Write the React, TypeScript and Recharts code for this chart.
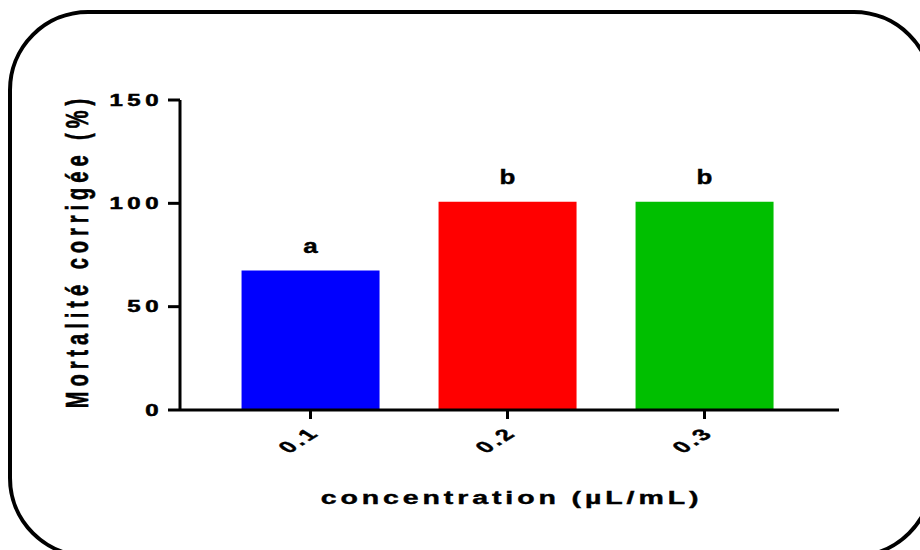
import React from 'react';
import { BarChart, Bar, XAxis, YAxis, Cell, LabelList } from 'recharts';

const categories = ['0.1', '0.2', '0.3'];
const mortality = [67.5, 100.8, 100.8];
const groupLetters = ['a', 'b', 'b'];
const barColors = ['#0000FF', '#FF0000', '#00BF00'];
const yTicks = [0, 50, 100, 150];
const xTitle = 'concentration (µL/mL)';
const yTitle = 'Mortalité corrigée (%)';

const data = categories.map((c, i) => ({
  concentration: c,
  mortality: mortality[i],
  letter: groupLetters[i],
}));

const FONT = '"Liberation Sans", Arial, sans-serif';

const YTick = (props: any) => {
  const { x, y, payload } = props;
  return (
    <g transform={`translate(${x},${y})`}>
      <text
        transform="scale(1.5,1)"
        textAnchor="end"
        dy="0.36em"
        fontFamily={FONT}
        fontWeight="bold"
        fontSize={16}
        letterSpacing={3}
        stroke="#000"
        strokeWidth={0.5}
        fill="#000"
      >
        {payload.value}
      </text>
    </g>
  );
};

const XTick = (props: any) => {
  const { x, y, payload } = props;
  return (
    <g transform={`translate(${x + 4},${y + 11})`}>
      <text
        transform="scale(1.6,1) rotate(-45)"
        textAnchor="end"
        dy="0.35em"
        fontFamily={FONT}
        fontWeight="bold"
        fontSize={16}
        letterSpacing={2}
        stroke="#000"
        strokeWidth={0.4}
        fill="#000"
      >
        {payload.value}
      </text>
    </g>
  );
};

const XTitle = (props: any) => {
  const vb = props.viewBox || {};
  const cx = vb.x + vb.width / 2 + 2;
  const cy = vb.y + 94;
  return (
    <g transform={`translate(${cx},${cy})`}>
      <text
        transform="scale(1.5,1)"
        textAnchor="middle"
        fontFamily={FONT}
        fontWeight="bold"
        fontSize={19}
        letterSpacing={2.6}
        stroke="#000"
        strokeWidth={0.4}
        fill="#000"
      >
        {xTitle}
      </text>
    </g>
  );
};

const YTitle = (props: any) => {
  const vb = props.viewBox || {};
  const cx = vb.x + 88;
  const cy = vb.y + vb.height / 2 - 4;
  return (
    <g transform={`translate(${cx},${cy})`}>
      <text
        transform="scale(1.6,1) rotate(-90)"
        textAnchor="middle"
        fontFamily={FONT}
        fontWeight="bold"
        fontSize={20}
        letterSpacing={5}
        stroke="#000"
        strokeWidth={0.4}
        fill="#000"
      >
        {yTitle}
      </text>
    </g>
  );
};

const LetterLabel = (props: any) => {
  const { x, y, width, value } = props;
  return (
    <g transform={`translate(${x + width / 2},${y - 18})`}>
      <text
        transform="scale(1.3,1)"
        textAnchor="middle"
        fontFamily={FONT}
        fontWeight="bold"
        fontSize={20}
        stroke="#000"
        strokeWidth={0.4}
        fill="#000"
      >
        {value}
      </text>
    </g>
  );
};

export default function App() {
  return (
    <div
      style={{
        position: 'absolute',
        left: 0,
        top: 0,
        width: 920,
        height: 550,
        overflow: 'hidden',
        background: '#fff',
      }}
    >
      <div
        style={{
          position: 'absolute',
          left: 8,
          top: 10,
          width: 926,
          height: 548,
          boxSizing: 'border-box',
          border: '4px solid #000',
          borderRadius: 80,
        }}
      />
      <div style={{ position: 'absolute', left: 0, top: 0 }}>
        <BarChart
          width={920}
          height={550}
          data={data}
          margin={{ top: 100, right: 81, bottom: 0, left: 0 }}
          barCategoryGap="15%"
        >
          <XAxis
            dataKey="concentration"
            height={140}
            padding={{ left: 32, right: 36 }}
            axisLine={{ stroke: '#000', strokeWidth: 3 }}
            tickLine={{ stroke: '#000', strokeWidth: 3 }}
            tickSize={9}
            tickMargin={0}
            tick={<XTick />}
            interval={0}
            label={{ content: <XTitle /> }}
          />
          <YAxis
            width={180}
            domain={[0, 150]}
            ticks={yTicks}
            axisLine={{ stroke: '#000', strokeWidth: 3 }}
            tickLine={{ stroke: '#000', strokeWidth: 3 }}
            tickSize={12}
            tickMargin={5}
            tick={<YTick />}
            label={{ content: <YTitle /> }}
          />
          <Bar dataKey="mortality" isAnimationActive={false}>
            {data.map((d, i) => (
              <Cell key={d.concentration} fill={barColors[i]} />
            ))}
            <LabelList dataKey="letter" content={<LetterLabel />} />
          </Bar>
        </BarChart>
      </div>
    </div>
  );
}
